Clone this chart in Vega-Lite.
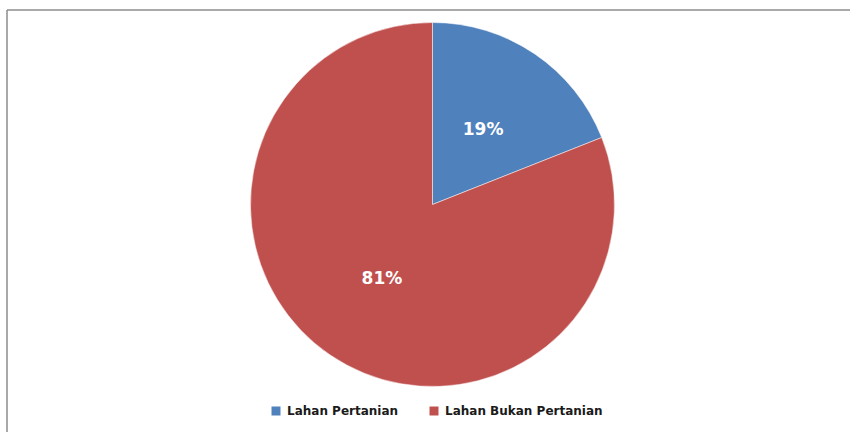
{
  "$schema": "https://vega.github.io/schema/vega-lite/v6.json",
  "autosize": "none",
  "width": 843,
  "height": 422,
  "padding": {"left": 7, "top": 10, "right": 0, "bottom": 0},
  "background": "white",
  "config": {"view": {"stroke": null}},
  "layer": [
    {
      "data": {"values": [{"rahmen": 1}]},
      "mark": {"type": "rule", "stroke": "#8c8c8c", "strokeWidth": 1.5},
      "encoding": {
        "x": {"value": 0},
        "x2": {"value": {"expr": "width"}},
        "y": {"value": 0}
      }
    },
    {
      "data": {"values": [{"rahmen": 1}]},
      "mark": {"type": "rule", "stroke": "#8c8c8c", "strokeWidth": 1.5},
      "encoding": {
        "x": {"value": 0},
        "y": {"value": 0},
        "y2": {"value": {"expr": "height"}}
      }
    },
    {
      "data": {"values": [
        {"kategori": "Lahan Pertanian", "persen": 19, "urut": 1, "label": "19%"},
        {"kategori": "Lahan Bukan Pertanian", "persen": 81, "urut": 2, "label": "81%"}
      ]},
      "encoding": {
        "theta": {"field": "persen", "type": "quantitative", "stack": true},
        "order": {"field": "urut", "type": "quantitative"}
      },
      "layer": [
        {
          "mark": {"type": "arc", "outerRadius": 182, "xOffset": 4, "yOffset": -16.5, "stroke": "white", "strokeWidth": 0.5},
          "encoding": {
            "color": {
              "field": "kategori", "type": "nominal",
              "scale": {"domain": ["Lahan Pertanian", "Lahan Bukan Pertanian"], "range": ["#4F81BD", "#C0504D"]},
              "legend": {
                "title": null, "orient": "none", "direction": "horizontal",
                "legendX": 263, "legendY": 395,
                "symbolType": "square", "symbolSize": 81, "symbolStrokeWidth": 0,
                "labelFont": "DejaVu Sans", "labelFontWeight": "bold", "labelFontSize": 12,
                "labelColor": "#1a1a1a", "labelOffset": 5, "columnPadding": 29, "padding": 0
              }
            }
          }
        },
        {
          "mark": {"type": "text", "radius": 90, "xOffset": 4, "yOffset": -16.5, "font": "DejaVu Sans", "fontWeight": "bold", "fontSize": 17, "color": "white"},
          "encoding": {"text": {"field": "label"}}
        }
      ]
    }
  ]
}
